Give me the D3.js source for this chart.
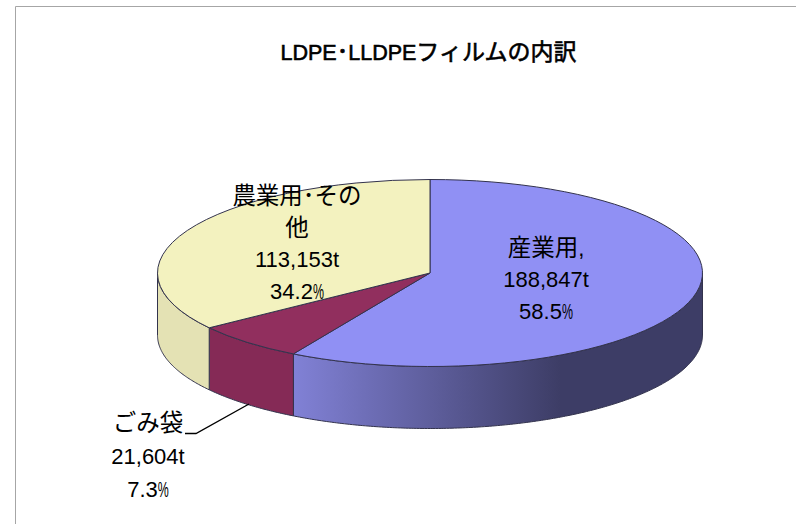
<!DOCTYPE html>
<html lang="ja">
<head>
<meta charset="utf-8">
<script src="https://cdn.jsdelivr.net/npm/d3@7"></script>
<style>
  html, body { margin: 0; padding: 0; background: #fff; }
  text { font-family: "Liberation Sans", "Noto Sans CJK JP", sans-serif; fill: #000; }
</style>
</head>
<body>
<div id="chart"></div>
<script>
const chartTitle = 'LDPE･LLDPEフィルムの内訳';
const categories = ['産業用', 'ごみ袋', '農業用･その他'];
const tonnes = [188847, 21604, 113153];
const percents = ['58.5', '7.3', '34.2'];

const width = 796, height = 524;
const cx = 430, cy = 273;
const rx = 272.5, ry = 93.5, depth = 62;

const topFill = ['#9090f4', '#912f5e', '#f3f2bf'];
const sideFill = ['url(#sideBlue)', '#852a56', '#e4e2b4'];
const edge = '#33334d';

// label blocks, one per slice
const labelLines = [
  [categories[0] + ',', d3.format(',')(tonnes[0]) + 't', percents[0] + '%'],
  [categories[1], d3.format(',')(tonnes[1]) + 't', percents[1] + '%'],
  ['農業用･その', '他', d3.format(',')(tonnes[2]) + 't', percents[2] + '%'],
];
const labelPos = [
  { x: 546, y: 255.5, gap: 31.5 },
  { x: 148, y: 431, gap: 33 },
  { x: 297, y: 204, gap: 31.5 },
];

const svg = d3.select('#chart').append('svg')
  .attr('width', width).attr('height', height)
  .style('display', 'block');

// frame, only top and left show in the crop
svg.append('path')
  .attr('d', `M15.5,${height}V6.5H${width}`)
  .attr('fill', 'none').attr('stroke', '#a6a6a6').attr('stroke-width', 1);

const grad = svg.append('defs').append('linearGradient')
  .attr('id', 'sideBlue').attr('gradientUnits', 'userSpaceOnUse')
  .attr('x1', 293).attr('x2', 560).attr('y1', 0).attr('y2', 0);
grad.append('stop').attr('offset', 0).attr('stop-color', '#8181d6');
grad.append('stop').attr('offset', 1).attr('stop-color', '#3d3d66');

// Latin and kana sit at different sizes in the original
function addRuns(sel, str, latinSize, cjkSize) {
  str.match(/[\u3000-\u9fff\uff00-\uffef]+|[^\u3000-\u9fff\uff00-\uffef]+/g).forEach(run => {
    const isCjk = /[\u3000-\u9fff\uff00-\uffef]/.test(run);
    sel.append('tspan').attr('font-size', isCjk ? cjkSize : latinSize).text(run);
  });
}

const title = svg.append('text')
  .attr('x', 428.5).attr('y', 60)
  .attr('text-anchor', 'middle')
  .attr('stroke', '#000').attr('stroke-width', 0.6);
addRuns(title, chartTitle, 21.5, 23);

const pie = d3.pie().sort(null).value(d => d);
const slices = pie(tonnes);

const px = a => cx + rx * Math.sin(a);
const py = a => cy - ry * Math.cos(a);

// rim of the disc, only the part facing the viewer
function sidePath(s) {
  const a0 = Math.max(s.startAngle, Math.PI / 2);
  const a1 = Math.min(s.endAngle, 3 * Math.PI / 2);
  if (a1 <= a0) return null;
  const angles = d3.range(a0, a1, 0.01).concat(a1);
  const pts = angles.map(a => [px(a), py(a)])
    .concat(angles.slice().reverse().map(a => [px(a), py(a) + depth]));
  return d3.line()(pts) + 'Z';
}

svg.append('g').selectAll('path')
  .data(slices)
  .join('path')
  .attr('d', sidePath)
  .attr('fill', (d, i) => sideFill[i])
  .attr('stroke', edge).attr('stroke-width', 1).attr('stroke-linejoin', 'round');

const arc = d3.arc().innerRadius(0).outerRadius(rx);
svg.append('g')
  .attr('transform', `translate(${cx},${cy}) scale(1,${ry / rx})`)
  .selectAll('path')
  .data(slices)
  .join('path')
  .attr('d', arc)
  .attr('fill', (d, i) => topFill[i])
  .attr('stroke', edge).attr('stroke-width', 1)
  .attr('vector-effect', 'non-scaling-stroke');

// leader for ごみ袋
svg.append('path')
  .attr('d', d3.line()([[185, 433.5], [196, 433.5], [249, 404]]))
  .attr('fill', 'none').attr('stroke', '#000').attr('stroke-width', 1.4);

const labels = svg.append('g').attr('text-anchor', 'middle');
labelLines.forEach((lines, i) => {
  lines.forEach((line, j) => {
    const t = labels.append('text')
      .attr('x', labelPos[i].x)
      .attr('y', labelPos[i].y + j * labelPos[i].gap);
    if (line.endsWith('%')) {
      addRuns(t, line.slice(0, -1), 22, 23.5);
      // the original % is a half-width glyph
      t.append('tspan').attr('font-size', 22)
        .attr('textLength', 11).attr('lengthAdjust', 'spacingAndGlyphs').text('%');
    } else {
      addRuns(t, line, 22, 23.5);
    }
  });
});
</script>
</body>
</html>
